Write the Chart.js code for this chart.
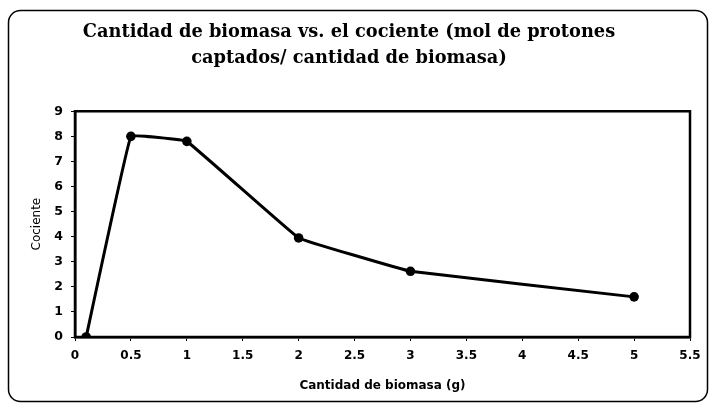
<!DOCTYPE html>
<html>
<head>
<meta charset="utf-8">
<script src="https://cdn.jsdelivr.net/npm/chart.js@4/dist/chart.umd.min.js"></script>
<style>
    html, body { margin: 0; padding: 0; background: #fff; }
    #wrap { width: 712px; height: 406px; }
</style>
</head>
<body>
<div id="wrap"><canvas id="biomasa" width="712" height="406"></canvas></div>
<script>
// Datos
const biomasa = [0.1, 0.5, 1, 2, 3, 5];
const cociente = [0, 8, 7.8, 3.95, 2.62, 1.6];
const tituloLineas = [
    "Cantidad de biomasa vs. el cociente (mol de protones",
    "captados/ cantidad de biomasa)",
];
const tituloX = "Cantidad de biomasa (g)";
const tituloY = "Cociente";

// Marco redondeado exterior y marco del área de trazado
const marcos = {
    id: "marcos",
    beforeDraw(chart) {
        const ctx = chart.ctx;
        ctx.save();
        ctx.fillStyle = "#fff";
        ctx.fillRect(0, 0, chart.width, chart.height);
        ctx.strokeStyle = "#000";
        ctx.lineWidth = 1.5;
        ctx.beginPath();
        ctx.roundRect(8.5, 10.5, 699, 391, 12);
        ctx.stroke();
        ctx.restore();
    },
    afterDatasetsDraw(chart) {
        const { ctx, chartArea: a } = chart;
        ctx.save();
        ctx.strokeStyle = "#000";
        ctx.lineWidth = 2.5;
        ctx.strokeRect(a.left, a.top, a.right - a.left, a.bottom - a.top);
        ctx.restore();
    },
};

function initializeChart() {
    const canvas = document.getElementById("biomasa");
    const puntos = biomasa.map((x, i) => ({ x: x, y: cociente[i] }));
    const fuenteEjes = "'DejaVu Sans', Arial, sans-serif";

    const config = {
        type: "line",
        data: {
            datasets: [
                {
                    data: puntos,
                    borderColor: "#000",
                    backgroundColor: "#000",
                    borderWidth: 3,
                    tension: 0.05,
                    pointRadius: 4.8,
                    pointBorderWidth: 0,
                    fill: false,
                },
            ],
        },
        options: {
            responsive: false,
            animation: false,
            layout: { padding: { left: 8, right: 22, top: 0, bottom: 9 } },
            plugins: {
                legend: { display: false },
                tooltip: { enabled: false },
                title: {
                    display: true,
                    text: tituloLineas,
                    color: "#000",
                    font: { family: "'DejaVu Serif', serif", size: 17.8, weight: "bold", lineHeight: 1.44 },
                    padding: { top: 20, bottom: 40 },
                },
            },
            scales: {
                x: {
                    type: "linear",
                    min: 0,
                    max: 5.5,
                    afterFit: (s) => { s.height = 60; },
                    ticks: {
                        stepSize: 0.5,
                        color: "#000",
                        padding: 8,
                        callback: (v) => String(v),
                        font: { family: fuenteEjes, size: 12, weight: "bold" },
                    },
                    grid: { drawOnChartArea: false, drawTicks: true, tickLength: 4, color: "#000" },
                    border: { display: true, color: "#000", width: 2.5 },
                    title: {
                        display: true,
                        text: tituloX,
                        color: "#000",
                        font: { family: fuenteEjes, size: 12, weight: "bold" },
                        padding: { top: 10 },
                    },
                },
                y: {
                    min: 0,
                    max: 9,
                    afterFit: (s) => { s.width = 67; },
                    ticks: {
                        stepSize: 1,
                        color: "#000",
                        padding: 8,
                        font: { family: fuenteEjes, size: 12.5, weight: "bold" },
                    },
                    grid: { drawOnChartArea: false, drawTicks: true, tickLength: 4, color: "#000" },
                    border: { display: true, color: "#000", width: 2.5 },
                    title: {
                        display: true,
                        text: tituloY,
                        color: "#000",
                        font: { family: fuenteEjes, size: 12 },
                        padding: { top: 22, bottom: 0 },
                    },
                },
            },
        },
        plugins: [marcos],
    };

    canvas.chart = new Chart(canvas, config);
}

document.addEventListener("DOMContentLoaded", initializeChart);
</script>
</body>
</html>
